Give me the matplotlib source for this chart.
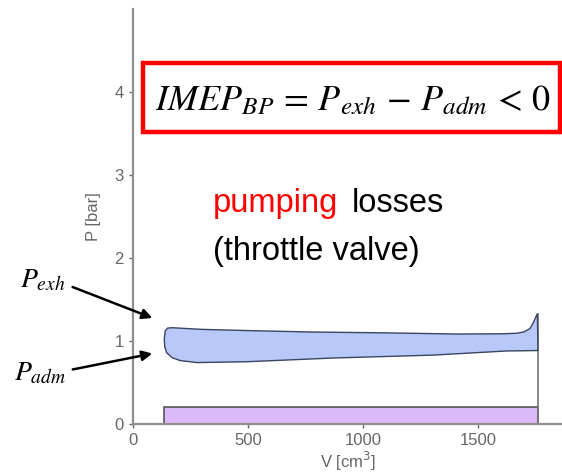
import matplotlib
matplotlib.use("Agg")
import matplotlib.pyplot as plt
from matplotlib.patches import Rectangle, Polygon, FancyArrowPatch

plt.rcParams['mathtext.fontset'] = 'stix'
plt.rcParams['font.family'] = ['Liberation Sans', 'DejaVu Sans']

# Pumping loop: exhaust stroke (upper branch) and intake stroke (lower branch)
v_exh = [1760, 1758, 1740, 1726, 1700, 1668, 1600, 1407, 1100, 783, 522, 300, 170, 150, 140]
p_exh = [1.00, 1.33, 1.22, 1.15, 1.11, 1.093, 1.087, 1.084, 1.098, 1.108, 1.124, 1.14, 1.16, 1.155, 1.12]
v_adm = [136, 138, 146, 170, 204, 277, 494, 870, 1305, 1625, 1760]
p_adm = [1.03, 0.93, 0.86, 0.80, 0.765, 0.74, 0.75, 0.795, 0.83, 0.88, 0.885]

# Bottom band and stroke end
bar_v = [135, 1760]
bar_p = 0.2
bdc_v = 1760
bdc_p = 1.33

xticks = [0, 500, 1000, 1500]
yticks = [0, 1, 2, 3, 4]

W, H = 562, 475
fig = plt.figure(figsize=(W / 100, H / 100), dpi=100)
ax = fig.add_axes([133 / W, 1 - 424 / H, (W - 133) / W + 0.002, (424 - 9) / H])
ax.set_xlim(0, 1870)
ax.set_ylim(0, 5)

gray = '#8f8f8f'
for s in ['top', 'right']:
    ax.spines[s].set_visible(False)
for s in ['left', 'bottom']:
    ax.spines[s].set_color(gray)
    ax.spines[s].set_linewidth(1.6)
ax.set_xticks(xticks)
ax.set_yticks(yticks)
ax.tick_params(colors='#666666', labelsize=12, length=3, width=1, direction='out')
ax.set_xlabel('V [cm$^3$]', fontsize=12, color='#666666', labelpad=1,
              math_fontfamily='dejavusans')
ax.set_ylabel('P [bar]', fontsize=12, color='#666666', labelpad=10)

# Purple band
ax.add_patch(Rectangle((bar_v[0], 0), bar_v[1] - bar_v[0], bar_p,
                       facecolor='#dcb9fa', edgecolor='#555555', lw=1.2, zorder=2))

# Pumping loop
loop = list(zip(v_exh, p_exh)) + list(zip(v_adm, p_adm))
ax.add_patch(Polygon(loop, closed=True, facecolor='#b8c9f9',
                     edgecolor='#3a4560', lw=1.0, zorder=3))
ax.plot([bdc_v, bdc_v], [0, bdc_p], color='#777777', lw=1.2, zorder=2)

# Annotation text
ax.text(348, 2.554, 'pumping', color='red', fontsize=23.5, va='baseline')
ax.text(952, 2.554, 'losses', color='black', fontsize=23.5, va='baseline')
ax.text(348, 1.976, '(throttle valve)', color='black', fontsize=23.5, va='baseline')

# Equation box
fig.patches.append(Rectangle((143 / W, 1 - 132 / H), (560 - 143) / W, (132 - 63) / H,
                             transform=fig.transFigure, fill=False,
                             edgecolor='red', lw=3.2, zorder=5))
fig.text(155 / W, 1 - 110 / H,
         r'$IMEP_{BP}\,=\,P_{exh}\,-\,P_{adm}\,<\,0$',
         fontsize=26, va='baseline', ha='left')

# Pressure labels with arrows
fig.text(20 / W, 1 - 287 / H, r'$P_{exh}$', fontsize=20, va='baseline')
fig.text(14 / W, 1 - 380 / H, r'$P_{adm}$', fontsize=20, va='baseline')
fig.add_artist(FancyArrowPatch(
    (70 / W, 1 - 286 / H), (155 / W, 1 - 319 / H), transform=fig.transFigure,
    arrowstyle='-|>,head_length=6,head_width=3', color='black', lw=1.8))
fig.add_artist(FancyArrowPatch(
    (70 / W, 1 - 370 / H), (155 / W, 1 - 353 / H), transform=fig.transFigure,
    arrowstyle='-|>,head_length=6,head_width=3', color='black', lw=1.8))

fig.savefig('out.png', dpi=100)
